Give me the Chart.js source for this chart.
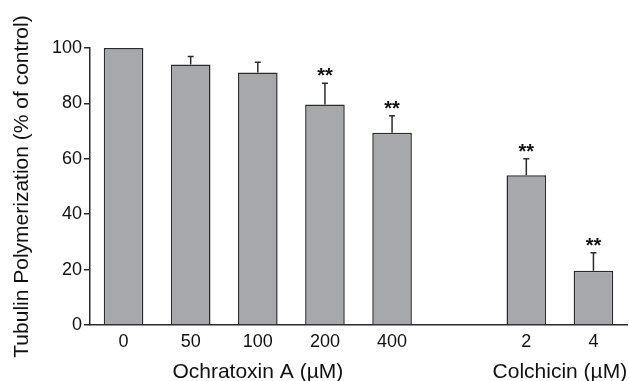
<!DOCTYPE html>
<html>
<head>
<meta charset="utf-8">
<script src="https://cdn.jsdelivr.net/npm/chart.js@4/dist/chart.umd.min.js"></script>
<style>
  html, body { margin: 0; padding: 0; background: #fff; }
  #wrap { width: 629px; height: 381px; position: relative; }
</style>
</head>
<body>
<div id="wrap"><canvas id="chart"></canvas></div>
<script>
// doses on the x axis, the empty one is the gap between the two drugs
const doses = ["0", "50", "100", "200", "400", "", "2", "4"];
const means = [100, 94.0, 91.2, 79.6, 69.4, null, 54.1, 19.6];
const errUp = [0, 2.9, 3.7, 7.7, 6.1, null, 5.9, 6.5];
const stars = ["", "", "", "**", "**", "", "**", "**"];
const yTicks = [0, 20, 40, 60, 80, 100];

// drug name under each group of bars (first and last index of group)
const groupNames = ["Ochratoxin A (\u00b5M)", "Colchicin (\u00b5M)"];
const groupFirst = [0, 6];
const groupLast = [4, 7];

const FONT = "'Liberation Sans', Arial, Helvetica, sans-serif";
const INK = "#2b2b2b";

const extras = {
  id: "extras",
  afterDatasetsDraw(chart) {
    const { ctx, scales: { x, y } } = chart;
    ctx.save();
    // error bars (upper whisker only)
    ctx.strokeStyle = INK;
    ctx.lineWidth = 1.5;
    means.forEach((m, i) => {
      if (m == null || !errUp[i]) return;
      const cx = x.getPixelForValue(i);
      const y0 = y.getPixelForValue(m);
      const y1 = y.getPixelForValue(m + errUp[i]);
      ctx.beginPath();
      ctx.moveTo(cx, y0);
      ctx.lineTo(cx, y1);
      ctx.moveTo(cx - 3, y1);
      ctx.lineTo(cx + 3, y1);
      ctx.stroke();
    });
    // significance marks
    ctx.fillStyle = "#111";
    ctx.font = "bold 20px " + FONT;
    ctx.textAlign = "center";
    ctx.textBaseline = "alphabetic";
    stars.forEach((s, i) => {
      if (!s) return;
      const top = y.getPixelForValue(means[i] + (errUp[i] || 0));
      ctx.fillText(s, x.getPixelForValue(i), top - 1);
    });
    // group names under the dose labels
    ctx.fillStyle = "#111";
    ctx.font = "21px " + FONT;
    ctx.textBaseline = "middle";
    groupNames.forEach((g, k) => {
      const cx = (x.getPixelForValue(groupFirst[k]) + x.getPixelForValue(groupLast[k])) / 2;
      ctx.fillText(g, cx, x.top + 47);
    });
    ctx.restore();
  }
};

new Chart(document.getElementById("chart"), {
  type: "bar",
  data: {
    labels: doses,
    datasets: [{
      data: means,
      backgroundColor: "#a7a8ac",
      borderColor: INK,
      borderWidth: 1.5,
      barPercentage: 0.59,
      categoryPercentage: 1.0
    }]
  },
  options: {
    responsive: true,
    maintainAspectRatio: false,
    animation: false,
    layout: { padding: { top: 48, right: 2, left: 0, bottom: 0 } },
    plugins: { legend: { display: false }, tooltip: { enabled: false } },
    scales: {
      x: {
        grid: { display: false, drawTicks: false },
        border: { display: true, color: INK, width: 1.5 },
        ticks: { color: "#111", padding: 6, font: { family: FONT, size: 18 } },
        afterFit: (s) => { s.height = 56; }
      },
      y: {
        min: 0,
        max: 100,
        afterBuildTicks: (s) => { s.ticks = yTicks.map(v => ({ value: v })); },
        grid: { drawOnChartArea: false, drawTicks: true, tickLength: 6, color: INK, lineWidth: 1.5 },
        border: { display: true, color: INK, width: 1.5 },
        ticks: { color: "#111", padding: 2, font: { family: FONT, size: 18 } },
        title: {
          display: true,
          text: "Tubulin Polymerization (% of control)",
          color: "#111",
          padding: { top: 10, bottom: 0 },
          font: { family: FONT, size: 21 }
        },
        afterFit: (s) => { s.width = 90; }
      }
    }
  },
  plugins: [extras]
});
</script>
</body>
</html>
